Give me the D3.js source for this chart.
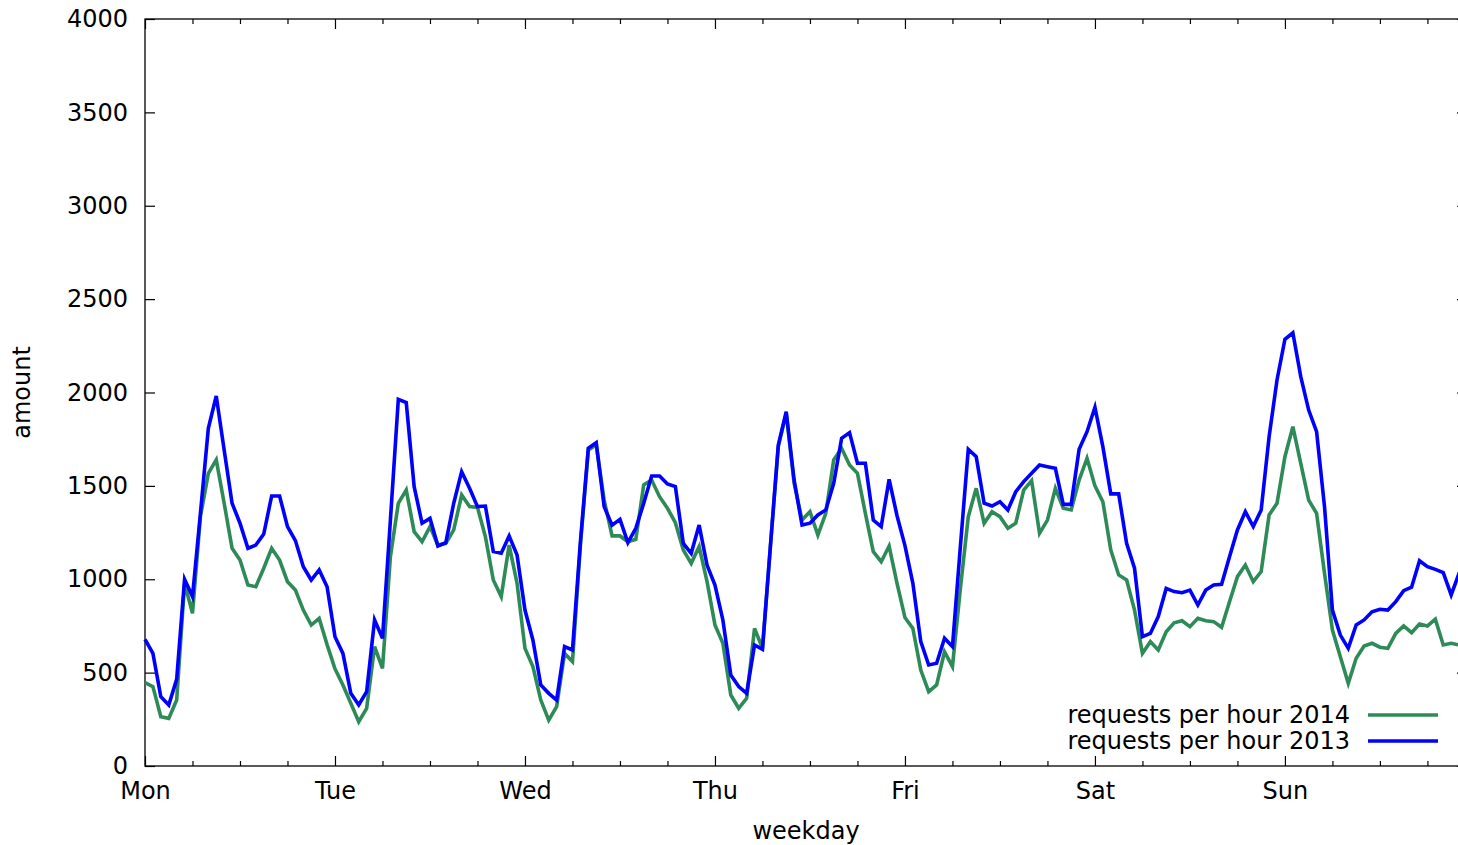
<!doctype html>
<html lang='en'>
<head>
<meta charset='UTF-8'>
<title>requests per hour</title>
<script src='https://cdn.jsdelivr.net/npm/d3@7/dist/d3.min.js'></script>
<style>
    body { margin: 0; background: #fff; }
    text { font-family: 'DejaVu Sans', sans-serif; fill: #000; }
</style>
</head>
<body>
<div id='chart'></div>
<script>
    // hour of week 0..167, Mon 00:00 first
    const dayLabels = ['Mon', 'Tue', 'Wed', 'Thu', 'Fri', 'Sat', 'Sun'];
    const yTicks = [0, 500, 1000, 1500, 2000, 2500, 3000, 3500, 4000];

    const req2014 = [
        446, 425, 264, 255, 353, 978, 818, 1335, 1567, 1639, 1407, 1166, 1103, 969, 960, 1059, 1166, 1103, 987, 942, 835, 755, 791, 650,
        520, 434, 336, 237, 309, 639, 523, 1121, 1407, 1478, 1255, 1201, 1282, 1183, 1192, 1264, 1451, 1389, 1385, 1228, 996, 907, 1183, 978,
        630, 532, 353, 246, 318, 603, 559, 1180, 1692, 1719, 1424, 1232, 1232, 1201, 1214, 1505, 1531, 1442, 1380, 1303, 1157, 1085, 1175, 987,
        755, 657, 380, 309, 362, 737, 630, 1175, 1710, 1888, 1514, 1317, 1362, 1237, 1353, 1639, 1701, 1612, 1567, 1353, 1148, 1094, 1178, 978,
        795, 737, 514, 398, 434, 612, 532, 950, 1335, 1487, 1300, 1362, 1335, 1273, 1300, 1478, 1528, 1246, 1317, 1487, 1380, 1371, 1531, 1648,
        1500, 1415, 1157, 1023, 996, 835, 603, 666, 621, 719, 767, 778, 746, 791, 778, 773, 743, 880, 1014, 1076, 987, 1041, 1344, 1407,
        1656, 1817, 1621, 1424, 1353, 1032, 728, 585, 443, 577, 643, 657, 636, 630, 710, 750, 714, 760, 750, 786, 648, 657, 648, 640
    ];
    const req2013 = [
        678, 603, 371, 327, 464, 1000, 907, 1353, 1808, 1981, 1692, 1407, 1300, 1166, 1183, 1242, 1446, 1446, 1282, 1207, 1067, 996, 1050, 960,
        692, 603, 389, 327, 398, 782, 684, 1317, 1963, 1946, 1496, 1300, 1326, 1178, 1196, 1407, 1576, 1487, 1389, 1392, 1148, 1139, 1232, 1130,
        835, 675, 434, 389, 353, 639, 621, 1200, 1701, 1731, 1389, 1290, 1321, 1196, 1273, 1407, 1553, 1553, 1510, 1496, 1192, 1139, 1290, 1076,
        969, 782, 487, 425, 389, 648, 625, 1175, 1719, 1897, 1531, 1290, 1300, 1344, 1371, 1514, 1755, 1785, 1621, 1621, 1317, 1282, 1535, 1340,
        1180, 978, 666, 541, 550, 684, 639, 1175, 1696, 1656, 1407, 1392, 1415, 1371, 1469, 1523, 1567, 1612, 1603, 1594, 1401, 1401, 1696, 1790,
        1921, 1710, 1457, 1457, 1192, 1059, 692, 710, 800, 951, 934, 928, 942, 862, 942, 969, 973, 1121, 1264, 1362, 1282, 1371, 1763, 2067,
        2285, 2320, 2085, 1906, 1790, 1389, 835, 701, 630, 755, 782, 826, 839, 835, 880, 939, 957, 1099, 1067, 1053, 1035, 916, 1032, 1080
    ];

    const series = [
        { name: 'requests per hour 2014', color: '#2e8b57', list: req2014 },
        { name: 'requests per hour 2013', color: '#0000ff', list: req2013 }
    ];

    const SIZE = { width: 1458, height: 845 };
    const MARGIN = { left: 145, top: 19, right: -9, bottom: 79 };
    const FONT = 24;

    function draw() {
        const svg = d3.select('#chart').append('svg')
            .attr('width', SIZE.width).attr('height', SIZE.height);

        const x0 = MARGIN.left, x1 = SIZE.width - MARGIN.right;
        const y0 = SIZE.height - MARGIN.bottom, y1 = MARGIN.top;

        const xScale = d3.scaleLinear().domain([0, req2013.length - 1]).range([x0, x1]);
        const yScale = d3.scaleLinear().domain([0, 4000]).range([y0, y1]);

        const majorX = d3.range(0, 168, 24);
        const minorX = d3.range(0, 168, 6).filter(function (d) { return d % 24 != 0; });

        function styleAxis(g) {
            g.select('.domain').remove();
            g.selectAll('line').attr('stroke', '#000').attr('stroke-width', 1.2);
            g.selectAll('text').style('font-size', FONT + 'px').attr('fill', '#000');
        }

        // bottom axis
        svg.append('g').attr('transform', 'translate(0,' + y0 + ')')
            .call(d3.axisBottom(xScale).tickValues(majorX).tickSize(-10).tickPadding(16)
                .tickFormat(function (d) { return dayLabels[d / 24]; }))
            .call(styleAxis);
        svg.append('g').attr('transform', 'translate(0,' + y0 + ')')
            .call(d3.axisBottom(xScale).tickValues(minorX).tickSize(-5).tickFormat(''))
            .call(styleAxis);
        // top mirror ticks
        svg.append('g').attr('transform', 'translate(0,' + y1 + ')')
            .call(d3.axisTop(xScale).tickValues(majorX).tickSize(-10).tickFormat(''))
            .call(styleAxis);
        svg.append('g').attr('transform', 'translate(0,' + y1 + ')')
            .call(d3.axisTop(xScale).tickValues(minorX).tickSize(-5).tickFormat(''))
            .call(styleAxis);
        // left axis
        svg.append('g').attr('transform', 'translate(' + x0 + ',0)')
            .call(d3.axisLeft(yScale).tickValues(yTicks).tickSize(-10).tickPadding(17)
                .tickFormat(d3.format('d')))
            .call(styleAxis);
        // right mirror ticks
        svg.append('g').attr('transform', 'translate(' + x1 + ',0)')
            .call(d3.axisRight(yScale).tickValues(yTicks).tickSize(-10).tickFormat(''))
            .call(styleAxis);

        // border
        svg.append('rect')
            .attr('x', x0).attr('y', y1)
            .attr('width', x1 - x0).attr('height', y0 - y1)
            .attr('fill', 'none').attr('stroke', '#000').attr('stroke-width', 1.3);

        const line = d3.line()
            .x(function (d, i) { return xScale(i); })
            .y(function (d) { return yScale(d); });

        series.forEach(function (s) {
            svg.append('path')
                .attr('d', line(s.list))
                .attr('fill', 'none')
                .attr('stroke', s.color)
                .attr('stroke-width', 3.6)
                .attr('stroke-linejoin', 'miter');
        });

        // legend
        const legend = svg.append('g');
        series.forEach(function (s, i) {
            const ly = 715 + i * 26;
            legend.append('text')
                .attr('x', 1350).attr('y', ly).attr('dy', '0.35em')
                .attr('text-anchor', 'end')
                .style('font-size', FONT + 'px')
                .text(s.name);
            legend.append('line')
                .attr('x1', 1368).attr('x2', 1438)
                .attr('y1', ly).attr('y2', ly)
                .attr('stroke', s.color).attr('stroke-width', 3.6);
        });

        // axis titles
        svg.append('text')
            .attr('x', (x0 + x1) / 2).attr('y', 831).attr('dy', '0.35em')
            .attr('text-anchor', 'middle')
            .style('font-size', FONT + 'px')
            .text('weekday');
        svg.append('text')
            .attr('transform', 'translate(22,' + ((y0 + y1) / 2) + ')rotate(-90)')
            .attr('dy', '0.35em')
            .attr('text-anchor', 'middle')
            .style('font-size', FONT + 'px')
            .text('amount');
    }

    draw();
</script>
</body>
</html>
